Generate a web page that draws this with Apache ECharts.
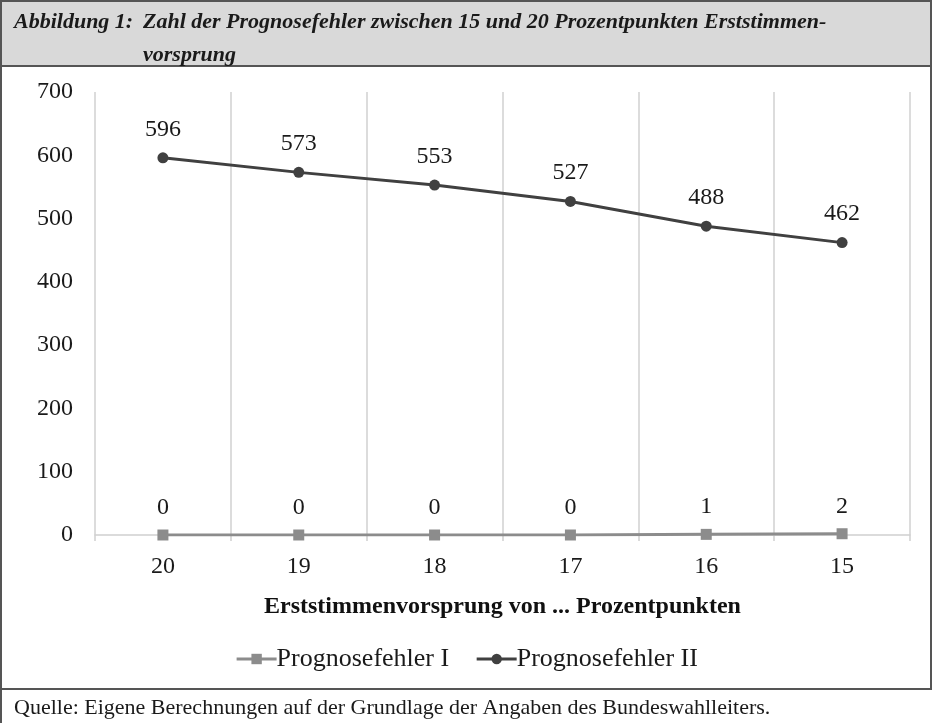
<!DOCTYPE html>
<html>
<head>
<meta charset="utf-8">
<script src="https://cdn.jsdelivr.net/npm/echarts@6/dist/echarts.min.js"></script>
<style>
  html, body { margin: 0; padding: 0; background: #fff; }
  #chart { width: 933px; height: 723px; }
</style>
</head>
<body>
<div id="chart"></div>
<script>
const categories = ["20", "19", "18", "17", "16", "15"];
const fehlerI = [0, 0, 0, 0, 1, 2];
const fehlerII = [596, 573, 553, 527, 488, 462];
const yTicks = { min: 0, max: 700, interval: 100 };

const serif = "'Liberation Serif', 'DejaVu Serif', serif";
const chart = echarts.init(document.getElementById("chart"));

const option = {
  backgroundColor: "#fff",
  animation: false,
  textStyle: { fontFamily: serif },
  title: [
    {
      text: "Abbildung 1:",
      left: 9,
      top: 1,
      textStyle: { fontFamily: serif, fontStyle: "italic", fontWeight: "bold", fontSize: 22, lineHeight: 33, color: "#1a1a1a" },
    },
    {
      text: "Zahl der Prognosefehler zwischen 15 und 20 Prozentpunkten Erststimmen-\nvorsprung",
      left: 138,
      top: 1,
      textStyle: { fontFamily: serif, fontStyle: "italic", fontWeight: "bold", fontSize: 22, lineHeight: 33, color: "#1a1a1a" },
    },
    {
      text: "Quelle: Eigene Berechnungen auf der Grundlage der Angaben des Bundeswahlleiters.",
      left: 9,
      top: 692,
      textStyle: { fontFamily: serif, fontWeight: "normal", fontSize: 22, color: "#1a1a1a" },
    },
  ],
  graphic: [
    { type: "rect", z: -10, shape: { x: 1, y: 1, width: 930, height: 65 }, style: { fill: "#d9d9d9", stroke: "#555", lineWidth: 2 } },
    { type: "rect", z: -10, shape: { x: 1, y: 66, width: 930, height: 623 }, style: { fill: "none", stroke: "#555", lineWidth: 2 } },
    { type: "line", z: -10, shape: { x1: 1, y1: 689, x2: 1, y2: 723 }, style: { stroke: "#555", lineWidth: 2 } },
  ],
  legend: {
    bottom: 46,
    left: "center",
    itemWidth: 40,
    itemHeight: 13,
    itemGap: 26,
    lineStyle: { width: 3 },
    textStyle: { fontFamily: serif, fontSize: 26, color: "#1a1a1a", padding: [0, 0, 0, -5] },
    data: ["Prognosefehler I", "Prognosefehler II"],
  },
  grid: { left: 95, right: 23, top: 92, bottom: 188 },
  xAxis: {
    type: "category",
    data: categories,
    boundaryGap: true,
    name: "Erststimmenvorsprung von ... Prozentpunkten",
    nameLocation: "middle",
    nameGap: 60,
    nameTextStyle: { fontFamily: serif, fontWeight: "bold", fontSize: 24, color: "#111" },
    axisLine: { lineStyle: { color: "#d0d0d0", width: 1.5 } },
    axisTick: { show: true, length: 6, lineStyle: { color: "#d0d0d0", width: 1.5 } },
    axisLabel: { fontFamily: serif, fontSize: 24, color: "#1a1a1a", margin: 20 },
    splitLine: { show: true, lineStyle: { color: "#d0d0d0", width: 1.5 } },
  },
  yAxis: {
    type: "value",
    min: yTicks.min,
    max: yTicks.max,
    interval: yTicks.interval,
    axisLine: { show: false },
    axisTick: { show: false },
    axisLabel: { fontFamily: serif, fontSize: 24, color: "#1a1a1a", margin: 22 },
    splitLine: { show: false },
  },
  series: [
    {
      name: "Prognosefehler I",
      type: "line",
      data: fehlerI,
      symbol: "rect",
      symbolSize: 11,
      itemStyle: { color: "#8c8c8c" },
      lineStyle: { color: "#8c8c8c", width: 3 },
      label: { show: true, position: "top", distance: 10, fontFamily: serif, fontSize: 24, color: "#1a1a1a" },
    },
    {
      name: "Prognosefehler II",
      type: "line",
      data: fehlerII,
      symbol: "circle",
      symbolSize: 11,
      itemStyle: { color: "#404040" },
      lineStyle: { color: "#404040", width: 3 },
      label: { show: true, position: "top", distance: 11, fontFamily: serif, fontSize: 24, color: "#1a1a1a" },
    },
  ],
};

chart.setOption(option);
window.addEventListener("resize", () => chart.resize());
</script>
</body>
</html>
